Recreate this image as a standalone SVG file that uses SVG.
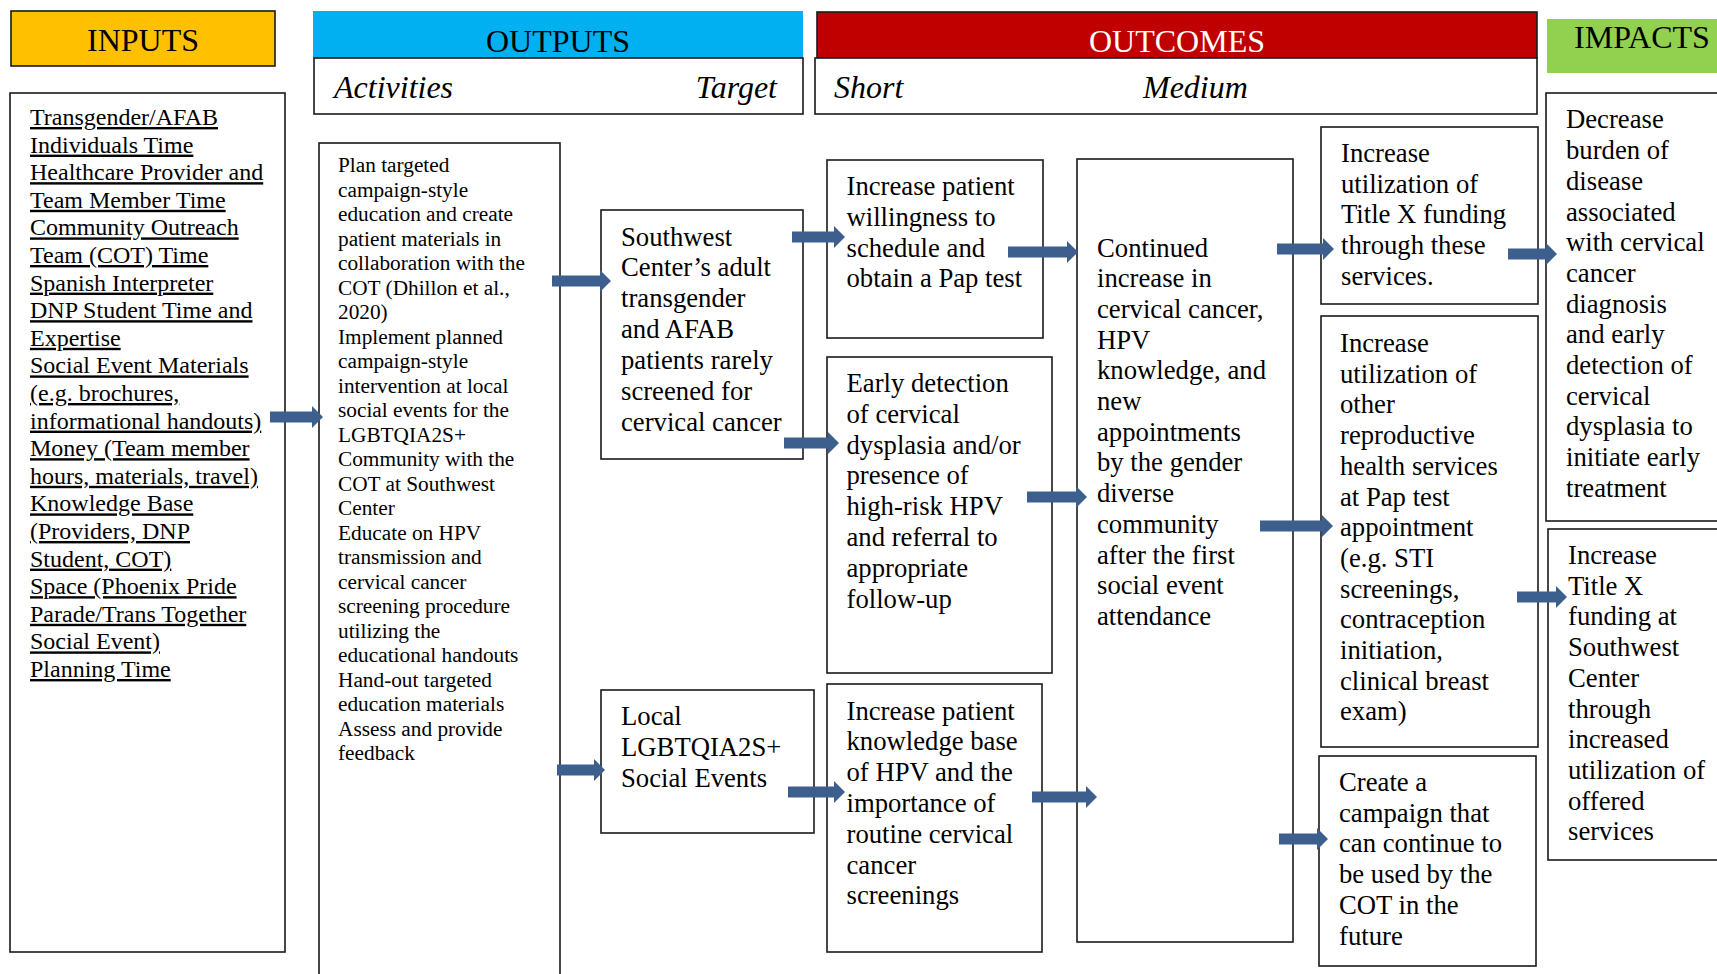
<svg xmlns="http://www.w3.org/2000/svg" width="1717" height="974" viewBox="0 0 1717 974">
<style>
.bx{fill:#fff;stroke:#1a1a1a;stroke-width:1.6}
.hd{font-family:"Liberation Serif","Times New Roman",serif;font-size:32px;text-anchor:middle}
.it{font-family:"Liberation Serif","Times New Roman",serif;font-size:32px;font-style:italic;fill:#000}
.t{font-family:"Liberation Serif","Times New Roman",serif;font-size:26.7px;fill:#000}
.ti{font-family:"Liberation Serif","Times New Roman",serif;font-size:24px;fill:#000;text-decoration:underline}
.ta{font-family:"Liberation Serif","Times New Roman",serif;font-size:21.3px;fill:#000}
.ar{stroke:#3c5f8e;stroke-width:11;fill:none;marker-end:url(#ah)}
</style>
<defs>
<marker id="ah" markerWidth="11" markerHeight="22" refX="0" refY="11" orient="auto" markerUnits="userSpaceOnUse">
<path d="M0,0 L11,11 L0,22 Z" fill="#3c5f8e"/>
</marker>
</defs>
<rect width="1717" height="974" fill="#fff"/>

<g id="hdr-inputs">
<rect x="11" y="11" width="264" height="55" fill="#ffc000" stroke="#1a1a1a" stroke-width="1.6"/>
<text class="hd" x="143" y="51">INPUTS</text>
</g>
<g id="hdr-outputs">
<rect x="313" y="11" width="490" height="47" fill="#00b0f0"/>
<text class="hd" x="558" y="52">OUTPUTS</text>
<rect class="bx" x="314" y="58" width="489" height="56"/>
<text class="it" x="334" y="98">Activities</text>
<text class="it" x="777" y="98" text-anchor="end">Target</text>
</g>
<g id="hdr-outcomes">
<rect x="817" y="12" width="720" height="46" fill="#c00000" stroke="#1a1a1a" stroke-width="1.6"/>
<text class="hd" x="1177" y="52" fill="#fff">OUTCOMES</text>
<rect class="bx" x="815" y="58" width="722" height="56"/>
<text class="it" x="834" y="98">Short</text>
<text class="it" x="1143" y="98">Medium</text>
</g>
<g id="hdr-impacts">
<rect x="1547" y="19" width="190" height="54" fill="#92d050"/>
<text class="hd" x="1642" y="48">IMPACTS</text>
</g>

<g id="inputs">
<rect class="bx" x="10" y="93" width="275" height="859"/>
<text class="ti" x="30" y="125">Transgender/AFAB</text>
<text class="ti" x="30" y="152.6">Individuals Time</text>
<text class="ti" x="30" y="180.2">Healthcare Provider and</text>
<text class="ti" x="30" y="207.8">Team Member Time</text>
<text class="ti" x="30" y="235.4">Community Outreach</text>
<text class="ti" x="30" y="263">Team (COT) Time</text>
<text class="ti" x="30" y="290.6">Spanish Interpreter</text>
<text class="ti" x="30" y="318.2">DNP Student Time and</text>
<text class="ti" x="30" y="345.8">Expertise</text>
<text class="ti" x="30" y="373.4">Social Event Materials</text>
<text class="ti" x="30" y="401">(e.g. brochures,</text>
<text class="ti" x="30" y="428.6">informational handouts)</text>
<text class="ti" x="30" y="456.2">Money (Team member</text>
<text class="ti" x="30" y="483.8">hours, materials, travel)</text>
<text class="ti" x="30" y="511.4">Knowledge Base</text>
<text class="ti" x="30" y="539">(Providers, DNP</text>
<text class="ti" x="30" y="566.6">Student, COT)</text>
<text class="ti" x="30" y="594.2">Space (Phoenix Pride</text>
<text class="ti" x="30" y="621.8">Parade/Trans Together</text>
<text class="ti" x="30" y="649.4">Social Event)</text>
<text class="ti" x="30" y="677">Planning Time</text>
</g>

<g id="activities">
<rect class="bx" x="319" y="143" width="241" height="860"/>
<text class="ta">
<tspan x="338" y="172">Plan targeted</tspan>
<tspan x="338" y="196.5">campaign-style</tspan>
<tspan x="338" y="221">education and create</tspan>
<tspan x="338" y="245.5">patient materials in</tspan>
<tspan x="338" y="270">collaboration with the</tspan>
<tspan x="338" y="294.5">COT (Dhillon et al.,</tspan>
<tspan x="338" y="319">2020)</tspan>
<tspan x="338" y="343.5">Implement planned</tspan>
<tspan x="338" y="368">campaign-style</tspan>
<tspan x="338" y="392.5">intervention at local</tspan>
<tspan x="338" y="417">social events for the</tspan>
<tspan x="338" y="441.5">LGBTQIA2S+</tspan>
<tspan x="338" y="466">Community with the</tspan>
<tspan x="338" y="490.5">COT at Southwest</tspan>
<tspan x="338" y="515">Center</tspan>
<tspan x="338" y="539.5">Educate on HPV</tspan>
<tspan x="338" y="564">transmission and</tspan>
<tspan x="338" y="588.5">cervical cancer</tspan>
<tspan x="338" y="613">screening procedure</tspan>
<tspan x="338" y="637.5">utilizing the</tspan>
<tspan x="338" y="662">educational handouts</tspan>
<tspan x="338" y="686.5">Hand-out targeted</tspan>
<tspan x="338" y="711">education materials</tspan>
<tspan x="338" y="735.5">Assess and provide</tspan>
<tspan x="338" y="760">feedback</tspan>
</text>
</g>

<g id="target-southwest">
<rect class="bx" x="601" y="210" width="202" height="249"/>
<text class="t">
<tspan x="621" y="245.5">Southwest</tspan>
<tspan x="621" y="276.4">Center’s adult</tspan>
<tspan x="621" y="307.3">transgender</tspan>
<tspan x="621" y="338.2">and AFAB</tspan>
<tspan x="621" y="369.1">patients rarely</tspan>
<tspan x="621" y="400">screened for</tspan>
<tspan x="621" y="430.9">cervical cancer</tspan>
</text>
</g>

<g id="target-local">
<rect class="bx" x="601" y="690" width="213" height="143"/>
<text class="t">
<tspan x="621" y="725">Local</tspan>
<tspan x="621" y="755.8">LGBTQIA2S+</tspan>
<tspan x="621" y="786.6">Social Events</tspan>
</text>
</g>

<g id="short-willingness">
<rect class="bx" x="827" y="160" width="216" height="178"/>
<text class="t">
<tspan x="846.5" y="195">Increase patient</tspan>
<tspan x="846.5" y="225.8">willingness to</tspan>
<tspan x="846.5" y="256.6">schedule and</tspan>
<tspan x="846.5" y="287.4">obtain a Pap test</tspan>
</text>
</g>

<g id="short-detection">
<rect class="bx" x="827" y="357" width="225" height="316"/>
<text class="t">
<tspan x="846.5" y="392">Early detection</tspan>
<tspan x="846.5" y="422.8">of cervical</tspan>
<tspan x="846.5" y="453.6">dysplasia and/or</tspan>
<tspan x="846.5" y="484.4">presence of</tspan>
<tspan x="846.5" y="515.2">high-risk HPV</tspan>
<tspan x="846.5" y="546">and referral to</tspan>
<tspan x="846.5" y="576.8">appropriate</tspan>
<tspan x="846.5" y="607.6">follow-up</tspan>
</text>
</g>

<g id="short-knowledge">
<rect class="bx" x="827" y="684" width="215" height="268"/>
<text class="t">
<tspan x="846.5" y="719.6">Increase patient</tspan>
<tspan x="846.5" y="750.4">knowledge base</tspan>
<tspan x="846.5" y="781.2">of HPV and the</tspan>
<tspan x="846.5" y="812">importance of</tspan>
<tspan x="846.5" y="842.8">routine cervical</tspan>
<tspan x="846.5" y="873.6">cancer</tspan>
<tspan x="846.5" y="904.4">screenings</tspan>
</text>
</g>

<g id="medium-continued">
<rect class="bx" x="1077" y="159" width="216" height="783"/>
<text class="t">
<tspan x="1097" y="256.5">Continued</tspan>
<tspan x="1097" y="287.2">increase in</tspan>
<tspan x="1097" y="317.9">cervical cancer,</tspan>
<tspan x="1097" y="348.6">HPV</tspan>
<tspan x="1097" y="379.3">knowledge, and</tspan>
<tspan x="1097" y="410">new</tspan>
<tspan x="1097" y="440.7">appointments</tspan>
<tspan x="1097" y="471.4">by the gender</tspan>
<tspan x="1097" y="502.1">diverse</tspan>
<tspan x="1097" y="532.8">community</tspan>
<tspan x="1097" y="563.5">after the first</tspan>
<tspan x="1097" y="594.2">social event</tspan>
<tspan x="1097" y="624.9">attendance</tspan>
</text>
</g>

<g id="long-titlex">
<rect class="bx" x="1321" y="127" width="217" height="177"/>
<text class="t">
<tspan x="1341" y="162">Increase</tspan>
<tspan x="1341" y="192.7">utilization of</tspan>
<tspan x="1341" y="223.4">Title X funding</tspan>
<tspan x="1341" y="254.1">through these</tspan>
<tspan x="1341" y="284.8">services.</tspan>
</text>
</g>

<g id="long-reproductive">
<rect class="bx" x="1321" y="316" width="217" height="431"/>
<text class="t">
<tspan x="1340" y="352">Increase</tspan>
<tspan x="1340" y="382.7">utilization of</tspan>
<tspan x="1340" y="413.4">other</tspan>
<tspan x="1340" y="444.1">reproductive</tspan>
<tspan x="1340" y="474.8">health services</tspan>
<tspan x="1340" y="505.5">at Pap test</tspan>
<tspan x="1340" y="536.2">appointment</tspan>
<tspan x="1340" y="566.9">(e.g. STI</tspan>
<tspan x="1340" y="597.6">screenings,</tspan>
<tspan x="1340" y="628.3">contraception</tspan>
<tspan x="1340" y="659">initiation,</tspan>
<tspan x="1340" y="689.7">clinical breast</tspan>
<tspan x="1340" y="720.4">exam)</tspan>
</text>
</g>

<g id="long-campaign">
<rect class="bx" x="1319" y="756" width="217" height="210"/>
<text class="t">
<tspan x="1339" y="791">Create a</tspan>
<tspan x="1339" y="821.7">campaign that</tspan>
<tspan x="1339" y="852.4">can continue to</tspan>
<tspan x="1339" y="883.1">be used by the</tspan>
<tspan x="1339" y="913.8">COT in the</tspan>
<tspan x="1339" y="944.5">future</tspan>
</text>
</g>

<g id="impact-burden">
<rect class="bx" x="1546" y="93" width="190" height="428"/>
<text class="t">
<tspan x="1566" y="128.4">Decrease</tspan>
<tspan x="1566" y="159.1">burden of</tspan>
<tspan x="1566" y="189.8">disease</tspan>
<tspan x="1566" y="220.5">associated</tspan>
<tspan x="1566" y="251.2">with cervical</tspan>
<tspan x="1566" y="281.9">cancer</tspan>
<tspan x="1566" y="312.6">diagnosis</tspan>
<tspan x="1566" y="343.3">and early</tspan>
<tspan x="1566" y="374">detection of</tspan>
<tspan x="1566" y="404.7">cervical</tspan>
<tspan x="1566" y="435.4">dysplasia to</tspan>
<tspan x="1566" y="466.1">initiate early</tspan>
<tspan x="1566" y="496.8">treatment</tspan>
</text>
</g>

<g id="impact-funding">
<rect class="bx" x="1548" y="529" width="190" height="331"/>
<text class="t">
<tspan x="1568" y="564">Increase</tspan>
<tspan x="1568" y="594.7">Title X</tspan>
<tspan x="1568" y="625.4">funding at</tspan>
<tspan x="1568" y="656.1">Southwest</tspan>
<tspan x="1568" y="686.8">Center</tspan>
<tspan x="1568" y="717.5">through</tspan>
<tspan x="1568" y="748.2">increased</tspan>
<tspan x="1568" y="778.9">utilization of</tspan>
<tspan x="1568" y="809.6">offered</tspan>
<tspan x="1568" y="840.3">services</tspan>
</text>
</g>

<g id="connectors">
<line class="ar" x1="270" y1="417" x2="312" y2="417"/>
<line class="ar" x1="552" y1="281" x2="600" y2="281"/>
<line class="ar" x1="557" y1="770" x2="594" y2="770"/>
<line class="ar" x1="792" y1="237" x2="834" y2="237"/>
<line class="ar" x1="784" y1="443" x2="828" y2="443"/>
<line class="ar" x1="788" y1="792" x2="834" y2="792"/>
<line class="ar" x1="1008" y1="252" x2="1067" y2="252"/>
<line class="ar" x1="1027" y1="497" x2="1076" y2="497"/>
<line class="ar" x1="1032" y1="797" x2="1086" y2="797"/>
<line class="ar" x1="1277" y1="249" x2="1323" y2="249"/>
<line class="ar" x1="1260" y1="526" x2="1322" y2="526"/>
<line class="ar" x1="1279" y1="839" x2="1317" y2="839"/>
<line class="ar" x1="1508" y1="254" x2="1546" y2="254"/>
<line class="ar" x1="1517" y1="597" x2="1556" y2="597"/>
</g>
</svg>
